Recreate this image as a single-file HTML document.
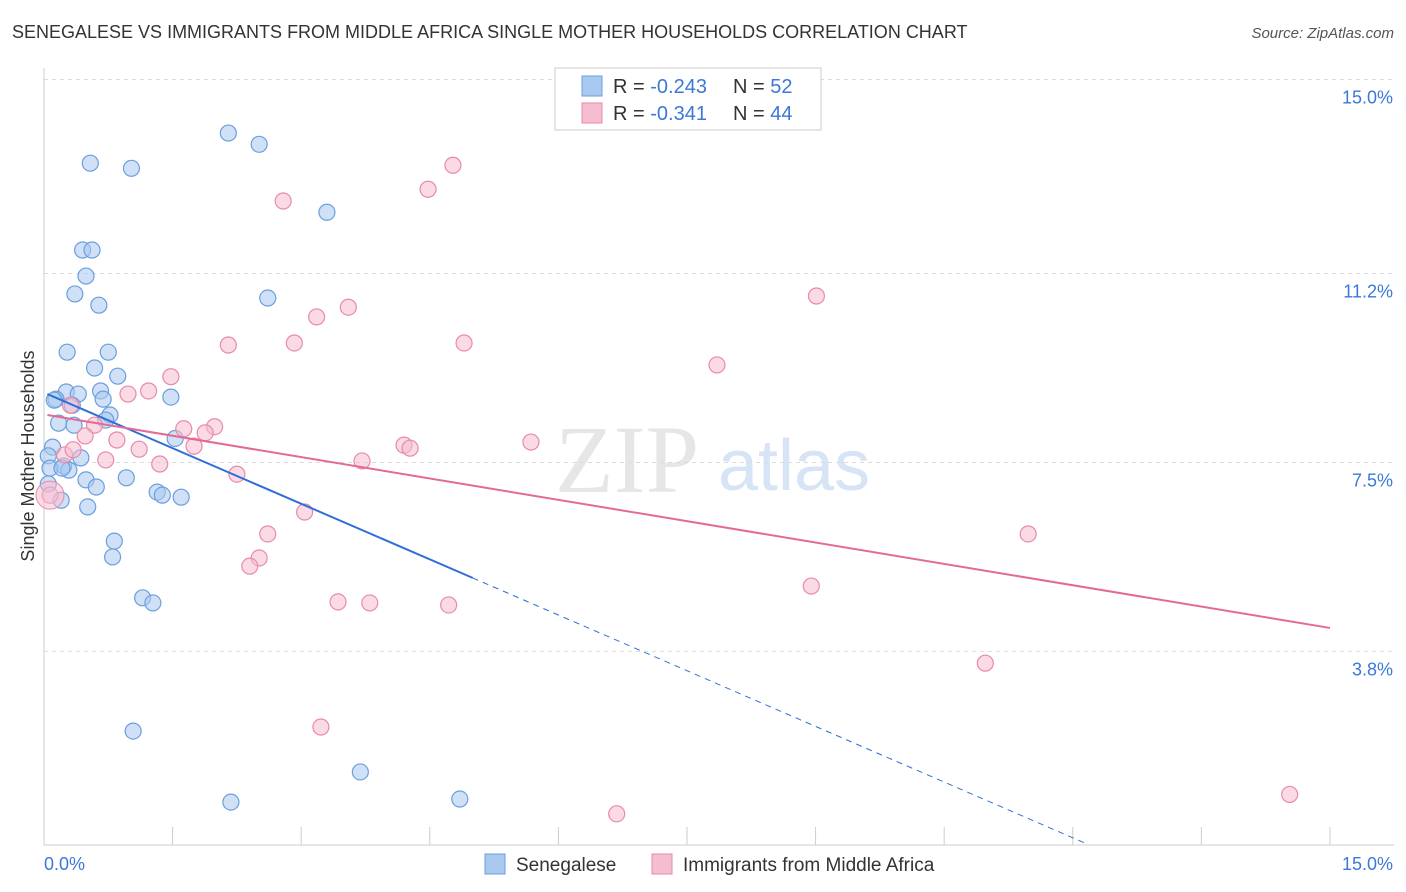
<!DOCTYPE html>
<html><head><meta charset="utf-8">
<style>
body{margin:0;background:#fff;font-family:"Liberation Sans",sans-serif;}
#wrap{position:relative;width:1406px;height:892px;overflow:hidden;}
.t{position:absolute;white-space:nowrap;}
</style></head>
<body>
<div id="wrap">
<div class="t" style="left:12px;top:22px;font-size:18px;color:#333;">SENEGALESE VS IMMIGRANTS FROM MIDDLE AFRICA SINGLE MOTHER HOUSEHOLDS CORRELATION CHART</div>
<div class="t" style="right:12px;top:25px;font-size:15px;color:#555;font-style:italic;">Source: ZipAtlas.com</div>
<svg id="svg" width="1406" height="892" style="position:absolute;left:0;top:0"></svg>
</div>
<script>
const yTicks=[15.0,11.2,7.5,3.8];
const yTickLabels=["15.0%","11.2%","7.5%","3.8%"];
const xTickLabels=["0.0%","15.0%"];
const seriesNames=["Senegalese","Immigrants from Middle Africa"];
const rVals=["-0.243","-0.341"];
const nVals=["52","44"];
// pixel-read points converted to % values
const blueX=[2.15,2.51,0.54,1.02,3.30,0.45,0.56,0.49,0.36,0.64,2.61,0.27,0.75,0.59,0.86,0.66,0.26,0.40,0.14,0.69,1.48,0.33,0.77,0.72,0.17,0.35,1.53,0.10,0.05,0.43,0.23,0.29,0.05,0.49,0.61,0.96,1.32,1.38,1.60,0.20,0.51,0.82,0.80,1.15,1.27,1.04,3.69,2.18,4.85,0.07,0.12,0.21];
const blueY=[13.95,13.73,13.36,13.26,12.40,11.66,11.66,11.15,10.80,10.58,10.72,9.66,9.66,9.35,9.19,8.90,8.88,8.84,8.74,8.74,8.78,8.62,8.43,8.33,8.27,8.23,7.97,7.80,7.63,7.59,7.43,7.35,7.08,7.16,7.02,7.20,6.92,6.86,6.82,6.76,6.63,5.96,5.65,4.85,4.75,2.24,1.44,0.85,0.91,7.39,8.72,7.39];
const pinkX=[4.77,4.48,2.79,9.01,3.55,3.18,2.15,2.92,4.90,7.85,1.48,1.22,0.98,0.31,0.59,1.99,1.63,1.88,0.48,0.85,1.11,1.75,5.68,4.20,4.27,0.24,0.34,0.72,1.35,3.71,2.25,0.07,3.04,2.61,11.48,2.51,2.40,8.95,3.43,3.80,4.72,10.98,3.23,6.68,14.53];
const pinkY=[13.32,12.85,12.62,10.76,10.54,10.35,9.80,9.84,9.84,9.41,9.18,8.90,8.84,8.62,8.23,8.20,8.16,8.08,8.02,7.94,7.76,7.82,7.90,7.84,7.78,7.65,7.75,7.55,7.47,7.53,7.27,6.86,6.53,6.10,6.10,5.63,5.47,5.08,4.77,4.75,4.71,3.57,2.32,0.62,1.00];
const blueTrend=[[0.04,8.84],[5.0,5.24],[12.14,0.05]];
const pinkTrend=[[0.04,8.43],[15.0,4.26]];

const X0=44,XS=85.73,Y0=845.5,YS=51.07;
const xs=v=>X0+v*XS, ys=v=>Y0-v*YS;
const svg=document.getElementById('svg');
const NS='http://www.w3.org/2000/svg';
function mk(tag,attrs,parent){const e=document.createElementNS(NS,tag);for(const k in attrs)e.setAttribute(k,attrs[k]);(parent||svg).appendChild(e);return e;}

// watermark
let w=mk('text',{x:555,y:492,'font-size':96,'font-family':'Liberation Serif, serif',fill:'#e6e6e6'});w.textContent='ZIP';


let w2=mk('text',{x:718,y:490,'font-size':72,'font-family':'Liberation Sans, sans-serif',fill:'#d6e4f5'});w2.textContent='atlas';



// gridlines
yTicks.forEach((v,i)=>{
  const y=ys(v);
  const g=mk('line',{x1:44,x2:1394,y1:y,y2:y,stroke:'#dcdcdc','stroke-dasharray':'4,4'});
  
  
  const t=mk('text',{x:1393,y:y+24,'text-anchor':'end','font-size':18,fill:'#3b78d8'});
  t.textContent=yTickLabels[i];
  
  
});
// axes
let ax=mk('line',{x1:44,x2:44,y1:68,y2:845,stroke:'#ccc'});


let bx=mk('line',{x1:44,x2:1394,y1:845,y2:845,stroke:'#ccc'});


for(let i=0;i<=10;i++){
  const x=xs(i*1.5);
  const tk=mk('line',{x1:x,x2:x,y1:827,y2:845,stroke:'#ccc'});
  
  
}
let xl=mk('text',{x:44,y:870,'font-size':18,fill:'#3b78d8'});xl.textContent=xTickLabels[0];


let xr=mk('text',{x:1393,y:870,'text-anchor':'end','font-size':18,fill:'#3b78d8'});xr.textContent=xTickLabels[1];


let yt=mk('text',{x:34,y:456,'font-size':18,fill:'#333','text-anchor':'middle',transform:'rotate(-90 34 456)'});yt.textContent='Single Mother Households';



// points
function pts(X,Y,fill,stroke,name){
  X.forEach((x,i)=>{
    const c=mk('circle',{cx:xs(x),cy:ys(Y[i]),r:8,fill:fill,'fill-opacity':0.55,stroke:stroke,'stroke-width':1.2});
    
    
  });
}
pts(blueX,blueY,'#a9c9f0','#6a9fde','senegalese-point');
pts(pinkX,pinkY,'#f6bccf','#e98aa8','middle-africa-point');
let big=mk('circle',{cx:xs(0.07),cy:ys(6.86),r:14,fill:'#f6bccf','fill-opacity':0.5,stroke:'#e98aa8'});



// trends
let bl=mk('line',{x1:xs(blueTrend[0][0]),y1:ys(blueTrend[0][1]),x2:xs(blueTrend[1][0]),y2:ys(blueTrend[1][1]),stroke:'#2f6fd6','stroke-width':2});


let bd=mk('line',{x1:xs(blueTrend[1][0]),y1:ys(blueTrend[1][1]),x2:xs(blueTrend[2][0]),y2:ys(blueTrend[2][1]),stroke:'#2f6fd6','stroke-width':1,'stroke-dasharray':'6,5'});


let pl=mk('line',{x1:xs(pinkTrend[0][0]),y1:ys(pinkTrend[0][1]),x2:xs(pinkTrend[1][0]),y2:ys(pinkTrend[1][1]),stroke:'#e46a96','stroke-width':2});



// top legend
let lb=mk('rect',{x:555,y:68,width:266,height:62,fill:'#fff',stroke:'#ccc'});


[['#a9c9f0','#6a9fde'],['#f6bccf','#e98aa8']].forEach((c,i)=>{
  const y=76+i*27;
  const s=mk('rect',{x:582,y:y,width:20,height:20,fill:c[0],stroke:c[1]});
  
  
  const t=mk('text',{x:613,y:y+17,'font-size':20,fill:'#333'});
  t.innerHTML='R = <tspan fill="#3b78d8">'+rVals[i]+'</tspan>';
  
  
  const n=mk('text',{x:733,y:y+17,'font-size':20,fill:'#333'});
  n.innerHTML='N = <tspan fill="#3b78d8">'+nVals[i]+'</tspan>';
  
  
});
// bottom legend
[[485,'#a9c9f0','#6a9fde',516],[652,'#f6bccf','#e98aa8',683]].forEach((d,i)=>{
  const s=mk('rect',{x:d[0],y:854,width:20,height:20,fill:d[1],stroke:d[2]});
  
  
  const t=mk('text',{x:d[3],y:871,'font-size':19,fill:'#333'});
  t.textContent=seriesNames[i];
  
  
});
</script>
</body></html>
